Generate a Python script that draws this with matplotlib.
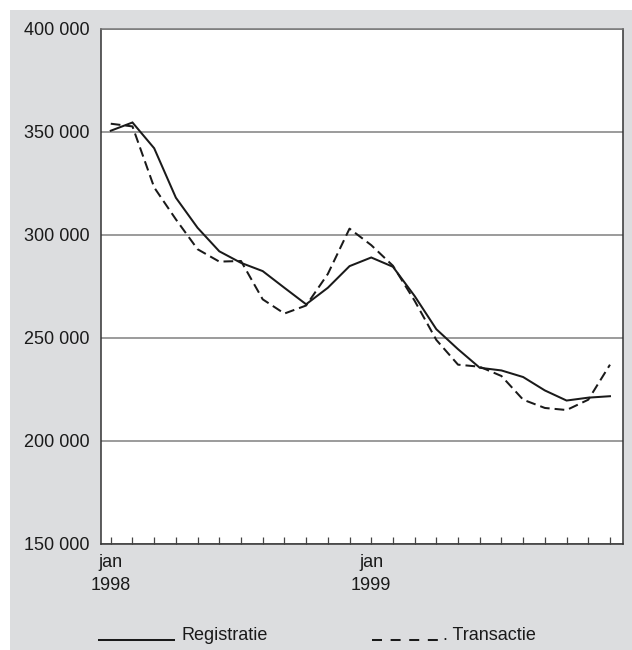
import numpy as np
import matplotlib
matplotlib.use("Agg")
import matplotlib.pyplot as plt
from matplotlib.lines import Line2D
from matplotlib.patches import Rectangle

plt.rcParams['font.family'] = ['Liberation Sans', 'DejaVu Sans']
plt.rcParams['lines.scale_dashes'] = False

# monthly values, jan 1998 .. dec 1999
months = np.arange(24)
registratie = [350500, 354500, 342000, 318000, 303400, 292000, 286400, 282400,
               274300, 266300, 274300, 284800, 289000, 284500, 270300, 254200,
               244500, 235500, 234200, 231000, 224500, 219600, 221000, 221700]
transactie = [353900, 352600, 323000, 307500, 293000, 287000, 287300, 268700,
              261800, 265700, 281000, 303000, 295000, 285000, 268000, 249000,
              237000, 236000, 231500, 220000, 216000, 215000, 220000, 237000]
month_labels = ['jan\n1998'] + [''] * 11 + ['jan\n1999'] + [''] * 11
y_ticks = [150000, 200000, 250000, 300000, 350000, 400000]
series_names = ['Registratie', 'Transactie']

W, H = 632, 650
fig = plt.figure(figsize=(W / 100, H / 100), dpi=100, facecolor='white')
fig.patches.append(Rectangle((10 / W, 0), 1 - 10 / W, 1 - 10 / H,
                             transform=fig.transFigure, facecolor='#dcdddf',
                             edgecolor='none', zorder=-10))

ax = fig.add_axes([101 / W, (H - 544) / H, (623 - 101) / W, (544 - 28.7) / H])
ax.set_facecolor('white')

ax.plot(months, registratie, color='#1a1a1a', lw=1.45, solid_joinstyle='miter')
ax.plot(months, transactie, color='#1a1a1a', lw=1.45, dashes=(7, 3.6))

ax.set_xlim(-0.45, 23.6)
ax.set_ylim(150000, 400000)
ax.set_yticks(y_ticks)
ax.set_yticklabels([f"{v:,}".replace(",", " ") for v in y_ticks])
ax.set_xticks(months)
ax.set_xticklabels(month_labels, linespacing=1.45)

ax.yaxis.grid(True, color='#808080', lw=1.1)
ax.set_axisbelow(True)
ax.tick_params(axis='y', length=0, pad=8, labelsize=13, labelcolor='#1a1a1a')
ax.tick_params(axis='x', direction='in', length=5, width=0.9, color='#444444',
               pad=7, labelsize=13, labelcolor='#1a1a1a')

for side in ['left', 'bottom', 'right']:
    ax.spines[side].set_color('#333333')
    ax.spines[side].set_linewidth(1.1)
ax.spines['top'].set_color('#777777')
ax.spines['top'].set_linewidth(1.1)

# legend drawn below the axes
ly = 10 / H
fig.add_artist(Line2D([99 / W, 174 / W], [ly, ly], color='#1a1a1a', lw=1.45,
                      transform=fig.transFigure))
fig.text(181 / W, ly, series_names[0], fontsize=13, color='#1a1a1a',
         va='baseline')
fig.add_artist(Line2D([372 / W, 438 / W], [ly, ly], color='#1a1a1a', lw=1.45,
                      dashes=(7.2, 6.2), transform=fig.transFigure))
fig.text(443 / W, ly, '. ' + series_names[1], fontsize=13, color='#1a1a1a',
         va='baseline')

fig.savefig('out.png', dpi=100, facecolor=fig.get_facecolor())
